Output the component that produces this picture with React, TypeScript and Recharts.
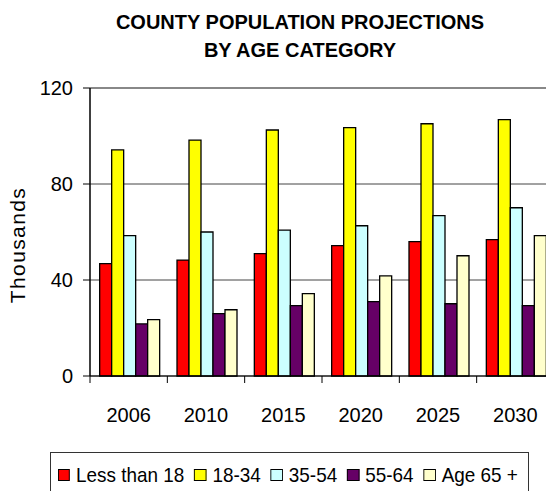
import { Bar, BarChart, CartesianGrid, ReferenceLine, XAxis, YAxis } from "recharts";

const years = ["2006", "2010", "2015", "2020", "2025", "2030"];
const under18 = [46.8, 48.3, 51, 54.3, 56, 56.8];
const age18to34 = [94.2, 98.3, 102.5, 103.5, 105.1, 106.8];
const age35to54 = [58.5, 60, 60.8, 62.6, 66.8, 70.1];
const age55to64 = [21.7, 26, 29.3, 31, 30.1, 29.3];
const age65plus = [23.5, 27.6, 34.3, 41.7, 50.1, 58.5];
const yTicks = [0, 40, 80, 120];

const series = [
  { key: "under18", name: "Less than 18", color: "#ff0000" },
  { key: "age18to34", name: "18-34", color: "#ffff00" },
  { key: "age35to54", name: "35-54", color: "#ccffff" },
  { key: "age55to64", name: "55-64", color: "#660066" },
  { key: "age65plus", name: "Age 65 +", color: "#ffffcc" },
];

const data = years.map((year, i) => ({
  year,
  under18: under18[i],
  age18to34: age18to34[i],
  age35to54: age35to54[i],
  age55to64: age55to64[i],
  age65plus: age65plus[i],
}));

const FONT = '"Liberation Sans", Arial, sans-serif';
const CHART_W = 560;
const PLOT_LEFT = 90;
const PLOT_RIGHT = 554;
const BAND = (PLOT_RIGHT - PLOT_LEFT) / years.length;
// legend text is a narrower face in the original; squeeze regular Liberation Sans a bit
const SQUEEZE = 0.9;

function YearTick(props: any) {
  const { x, y, payload, index } = props;
  const last = index === years.length - 1;
  return (
    <g>
      <line x1={x - BAND / 2} y1={y - 7} x2={x - BAND / 2} y2={y} stroke="#000" />
      {last && <line x1={x + BAND / 2} y1={y - 7} x2={x + BAND / 2} y2={y} stroke="#000" />}
      <text x={x} y={y + 39} textAnchor="middle" fontSize={20} fontFamily={FONT} fill="#000">
        {payload.value}
      </text>
    </g>
  );
}

export default function App() {
  return (
    <div
      style={{
        position: "absolute",
        left: 0,
        top: 0,
        width: 546,
        height: 491,
        overflow: "hidden",
        background: "#fff",
        fontFamily: FONT,
      }}
    >
      <div
        style={{
          position: "absolute",
          left: 100,
          top: 8,
          width: 400,
          textAlign: "center",
          fontWeight: "bold",
          fontSize: 20,
          lineHeight: "28px",
        }}
      >
        COUNTY POPULATION PROJECTIONS
        <br />
        BY AGE CATEGORY
      </div>

      <BarChart
        width={CHART_W}
        height={491}
        data={data}
        margin={{ top: 88, right: CHART_W - PLOT_RIGHT, bottom: 75, left: 0 }}
        barCategoryGap="12.5%"
        barGap={0}
        style={{ position: "absolute", left: 0, top: 0 }}
      >
        <CartesianGrid horizontal vertical={false} stroke="#444" />
        <ReferenceLine y={120} stroke="#888" strokeWidth={2} />
        <XAxis
          dataKey="year"
          axisLine={{ stroke: "#000" }}
          tickLine={false}
          tickSize={7}
          tickMargin={0}
          height={40}
          tick={<YearTick />}
          interval={0}
        />
        <YAxis
          width={PLOT_LEFT}
          domain={[0, 120]}
          ticks={yTicks}
          axisLine={{ stroke: "#000", strokeWidth: 1.5 }}
          tickLine={{ stroke: "#000" }}
          tickSize={7}
          tickMargin={10}
          tick={{ fill: "#000", fontSize: 20, fontFamily: FONT }}
        />
        {series.map((s) => (
          <Bar
            key={s.key}
            dataKey={s.key}
            name={s.name}
            fill={s.color}
            stroke="#000"
            strokeWidth={1.3}
            isAnimationActive={false}
          />
        ))}
      </BarChart>

      <div
        style={{
          position: "absolute",
          left: 18,
          top: 245,
          transform: "translate(-50%, -50%) rotate(-90deg)",
          fontSize: 21,
          letterSpacing: 1.4,
          whiteSpace: "nowrap",
        }}
      >
        Thousands
      </div>

      <div
        style={{
          position: "absolute",
          left: 50,
          top: 452,
          width: 479,
          height: 60,
          border: "1px solid #333",
          paddingLeft: 7,
          paddingTop: 10,
          boxSizing: "border-box",
          fontSize: 21,
        }}
      >
        <div
          style={{
            display: "flex",
            alignItems: "center",
            whiteSpace: "nowrap",
            transform: `scaleX(${SQUEEZE})`,
            transformOrigin: "left center",
          }}
        >
          {series.map((s) => (
            <div key={s.key} style={{ display: "flex", alignItems: "center", marginRight: 10 / SQUEEZE }}>
              <span
                style={{
                  display: "inline-block",
                  width: 13 / SQUEEZE - 3,
                  height: 10,
                  background: s.color,
                  border: "1.5px solid #000",
                  marginRight: 6 / SQUEEZE,
                }}
              />
              <span style={{ lineHeight: "24px" }}>{s.name}</span>
            </div>
          ))}
        </div>
      </div>
    </div>
  );
}
